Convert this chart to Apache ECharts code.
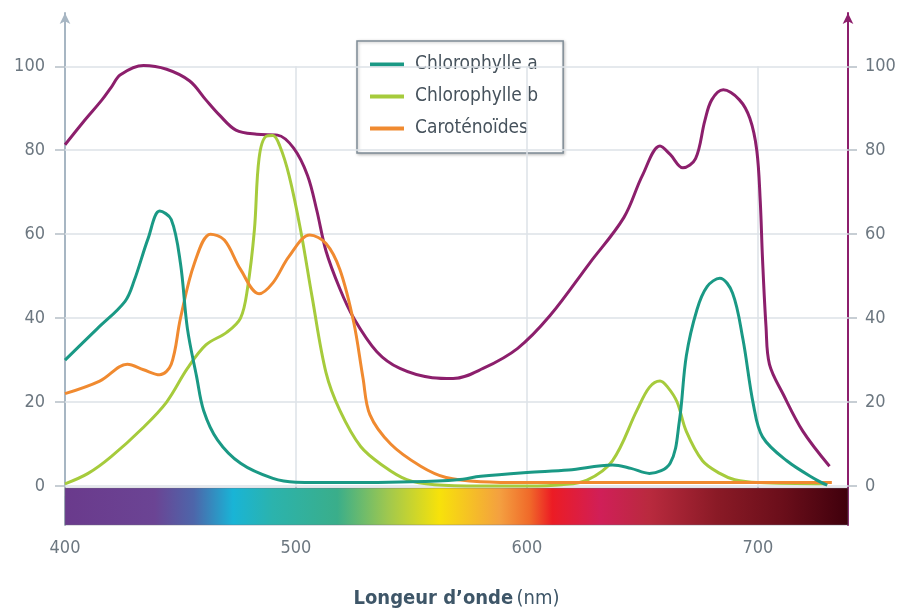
<!DOCTYPE html>
<html>
<head>
<meta charset="utf-8">
<script src="https://cdn.jsdelivr.net/npm/echarts@6/dist/echarts.min.js"></script>
<style>
  html, body { margin: 0; padding: 0; background: #fff; }
  #chart { width: 904px; height: 614px; }
</style>
</head>
<body>
<div id="chart"></div>
<script>
// axes
var xTicks = [400, 500, 600, 700];
var yTicks = [0, 20, 40, 60, 80, 100];
var xGrid = [500, 600, 700];

// Chlorophylle a
var chlaX = [400, 414, 426, 430, 436, 441, 446, 450, 453, 457, 460, 466, 476, 490, 500, 520, 550, 570, 580, 600, 618, 637, 645, 653, 662, 666, 669, 673.6, 678, 683.5, 689, 693.5, 698, 702, 712.5, 725.5, 730];
var chlaY = [30, 37.5, 44, 49, 59, 65.5, 63.5, 53, 37.5, 26, 18, 11, 5.4, 1.8, 0.9, 0.8, 1, 1.5, 2.3, 3.2, 3.8, 5, 4.2, 3, 5.4, 15.5, 31, 42, 47.5, 49.5, 46, 35, 19.5, 11.7, 6, 1.4, 0.2];

// Chlorophylle b
var chlbX = [400, 410, 420, 434, 444, 453, 461, 470, 476, 479, 482, 484, 487, 490, 493, 497, 502, 507, 513, 519, 528, 538, 548, 560, 580, 600, 615, 626, 637, 647.6, 653, 657.6, 661, 665, 669, 676, 683.5, 690, 700, 730];
var chlbY = [0.5, 3, 7, 14, 20, 28, 33.6, 36.6, 40, 47, 61, 78, 83.3, 83.5, 81, 74, 61, 45, 27, 18, 9.4, 4.7, 1.5, 0.3, 0, 0, 0.3, 1.4, 6, 18, 23.5, 25, 23.5, 20, 13, 6, 3, 1.5, 0.8, 0.5];

// Caroténoïdes
var caroX = [400, 415, 427, 434, 441, 446, 450, 456, 463, 469, 476, 484, 490, 497, 506, 513, 519, 525, 529, 532, 541, 554, 565, 580, 600, 700, 732];
var caroY = [22, 25, 29, 27.7, 26.5, 29, 40, 53, 60, 58.6, 51.6, 45.8, 48.4, 54.7, 59.8, 57.8, 51.6, 39, 25.8, 17, 10, 4.7, 2, 1, 0.8, 0.8, 0.8];

// spectre d'action
var actX = [400, 408, 416, 420, 424, 434, 444, 454, 461, 467, 474, 483, 492, 499, 505, 509, 513, 519, 525, 535, 545, 559, 568, 581, 596, 610, 627, 642, 650, 657.6, 662, 667.5, 673, 677, 680, 685, 692, 696.5, 699.5, 701, 702, 703.5, 705, 711, 719.5, 731];
var actY = [81.3, 86.8, 92, 95, 98, 100.2, 99.3, 96.5, 92, 88.3, 84.8, 83.8, 83.6, 80.5, 74, 65.7, 56, 47, 40, 32, 28, 25.8, 25.6, 28, 32.8, 40.6, 53, 64, 74, 81, 79, 75.8, 78, 87, 92, 94.4, 92, 87.6, 80, 68, 54, 38, 29, 21.8, 13, 4.7];

var xMin = 400, xMax = 739, yMin = -9.3, yMax = 112.7;

function zip(xs, ys) {
  return xs.map(function (x, i) { return [x, ys[i]]; });
}

var font = "'DejaVu Sans Condensed', 'Roboto', sans-serif";
var gridColor = '#dde2e7';
var labelColor = '#6c7780';

var spectrum = new echarts.graphic.LinearGradient(0, 0, 1, 0, [
  { offset: 0, color: '#6a3a8c' },
  { offset: 0.115, color: '#6b4494' },
  { offset: 0.165, color: '#4d66aa' },
  { offset: 0.215, color: '#19b4d6' },
  { offset: 0.265, color: '#2bb3ad' },
  { offset: 0.348, color: '#3aae8a' },
  { offset: 0.413, color: '#a0c84e' },
  { offset: 0.478, color: '#f7e20a' },
  { offset: 0.555, color: '#f4a040' },
  { offset: 0.593, color: '#f06a2a' },
  { offset: 0.622, color: '#ec1c24' },
  { offset: 0.684, color: '#d01f58' },
  { offset: 0.746, color: '#b92a3e' },
  { offset: 0.832, color: '#8a1a26' },
  { offset: 0.917, color: '#6a0e1a' },
  { offset: 1, color: '#3f000c' }
]);

var gridLines = [];
yTicks.forEach(function (v) {
  gridLines.push([{ coord: [xMin, v] }, { coord: [xMax, v] }]);
});
xGrid.forEach(function (v) {
  gridLines.push([{ coord: [v, 0] }, { coord: [v, 100] }]);
});

function lineSeries(name, data, color, z) {
  return {
    name: name,
    type: 'line',
    data: data,
    smooth: 0.35,
    showSymbol: false,
    z: z,
    lineStyle: { width: 3, color: color },
    itemStyle: { color: color }
  };
}

var myChart = echarts.init(document.getElementById('chart'));
var option = {
  backgroundColor: '#fff',
  animation: false,
  grid: { left: 65, right: 56, top: 13, bottom: 81.4 },
  legend: {
    orient: 'vertical',
    left: 357,
    top: 41,
    data: ['Chlorophylle a', 'Chlorophylle b', 'Caroténoïdes'],
    icon: 'rect',
    itemWidth: 34,
    itemHeight: 4,
    itemGap: 13,
    padding: [14, 25, 15, 13],
    backgroundColor: '#fff',
    borderColor: '#7f8c96',
    borderWidth: 1.5,
    shadowColor: 'rgba(0,0,0,0.25)',
    shadowBlur: 3,
    shadowOffsetX: 1,
    shadowOffsetY: 1,
    textStyle: { fontFamily: font, fontSize: 19, color: '#46525c', padding: [0, 0, 0, 6] }
  },
  xAxis: {
    type: 'value',
    min: xMin,
    max: xMax,
    axisLine: { show: false },
    splitLine: { show: false },
    axisTick: { show: true, customValues: xTicks, length: 10, lineStyle: { color: '#b5bec6', width: 1.5 } },
    axisLabel: { customValues: xTicks, color: labelColor, fontFamily: font, fontSize: 18, margin: 14 },
    name: '{b|Longeur d\u2019onde} {n|(nm)}',
    nameLocation: 'middle',
    nameGap: 64,
    nameTextStyle: {
      rich: {
        b: { fontFamily: font, fontSize: 20, fontWeight: 'bold', color: '#3e5668' },
        n: { fontFamily: font, fontSize: 20, color: '#3e5668' }
      }
    }
  },
  yAxis: [{
    type: 'value',
    min: yMin,
    max: yMax,
    position: 'left',
    splitLine: { show: false },
    axisLine: { show: true, symbol: ['none', 'arrow'], symbolSize: [8, 11], lineStyle: { color: '#a7b6c3', width: 2 } },
    axisTick: { show: true, customValues: yTicks, length: 10, lineStyle: { color: '#b5bec6', width: 1.5 } },
    axisLabel: { customValues: yTicks, color: labelColor, fontFamily: font, fontSize: 18, margin: 20 }
  }, {
    type: 'value',
    min: yMin,
    max: yMax,
    position: 'right',
    splitLine: { show: false },
    axisLine: { show: true, symbol: ['none', 'arrow'], symbolSize: [8, 11], lineStyle: { color: '#8c1f6c', width: 2 } },
    axisTick: { show: true, customValues: yTicks, length: 9, lineStyle: { color: '#b5bec6', width: 1.5 } },
    axisLabel: { customValues: yTicks, color: labelColor, fontFamily: font, fontSize: 18, margin: 17 }
  }],
  series: [{
    name: 'grille',
    type: 'line',
    data: [],
    z: 1,
    markLine: {
      silent: true,
      symbol: ['none', 'none'],
      label: { show: false },
      lineStyle: { color: gridColor, width: 1.5, type: 'solid' },
      data: gridLines
    },
    markArea: {
      silent: true,
      itemStyle: { color: spectrum, borderColor: 'rgba(110,110,130,0.45)', borderWidth: 1 },
      data: [[{ coord: [xMin, -0.5] }, { coord: [xMax, yMin] }]]
    }
  },
    lineSeries('Spectre d\u2019action', zip(actX, actY), '#8c1f6c', 5),
    lineSeries('Chlorophylle b', zip(chlbX, chlbY), '#a6cb3c', 6),
    lineSeries('Caroténoïdes', zip(caroX, caroY), '#f08a30', 7),
    lineSeries('Chlorophylle a', zip(chlaX, chlaY), '#1a9985', 8)
  ]
};
myChart.setOption(option);
window.addEventListener('resize', function () {
  myChart.resize();
});
</script>
</body>
</html>
